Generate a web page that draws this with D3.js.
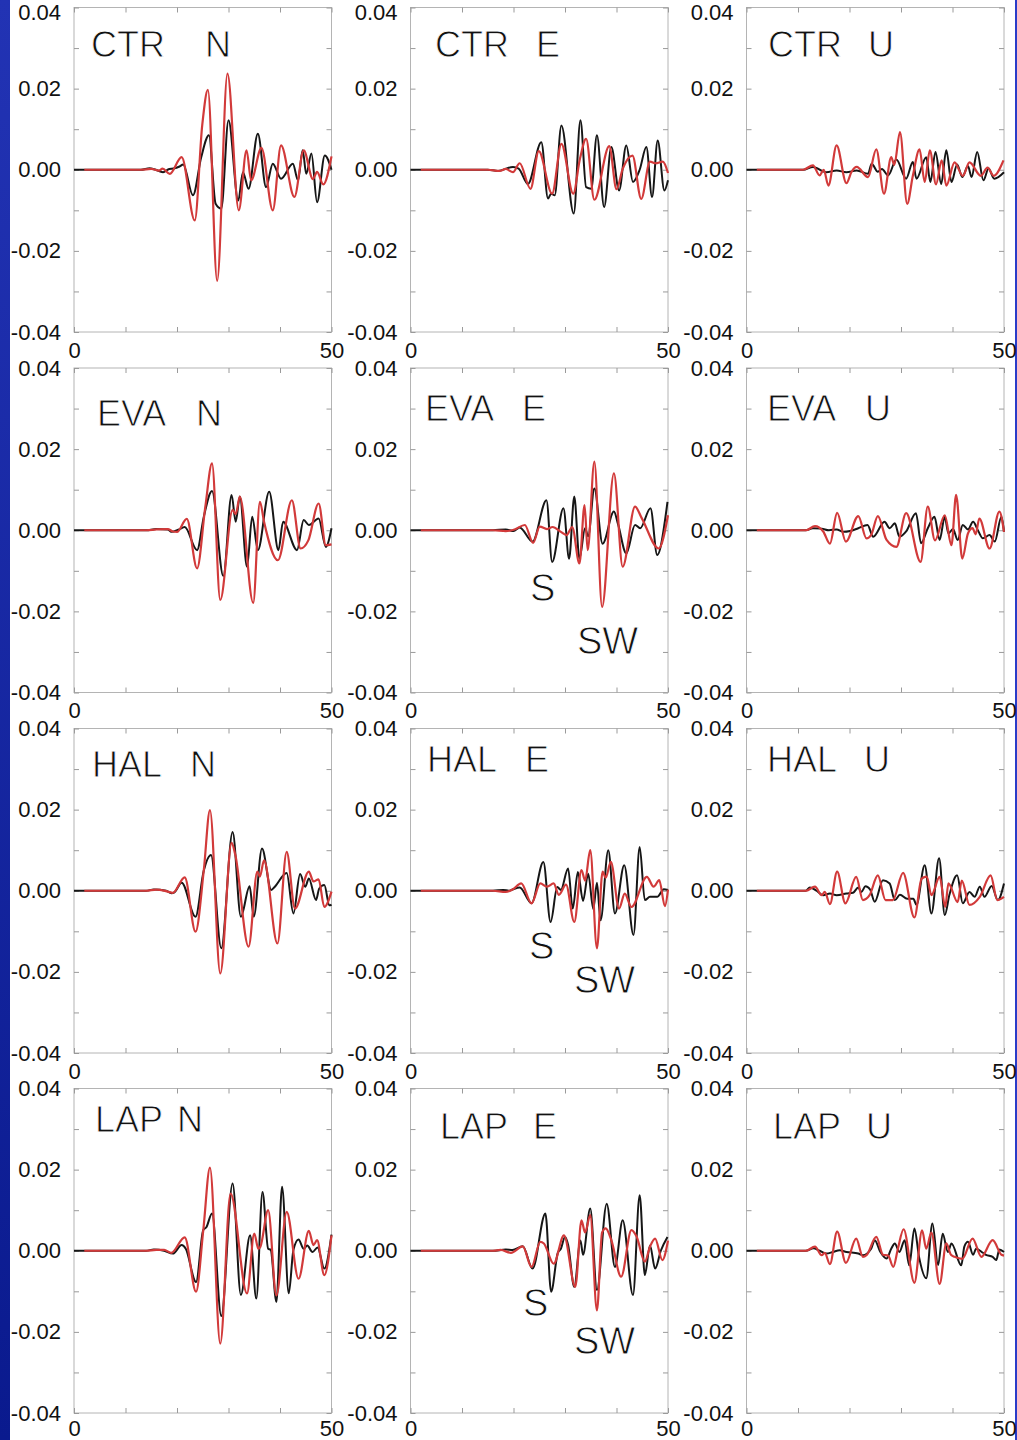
<!DOCTYPE html>
<html><head><meta charset="utf-8">
<script src="https://cdn.jsdelivr.net/npm/d3@7"></script>
<style>html,body{margin:0;padding:0;background:#fff;} svg{display:block;}</style>
</head><body>
<svg id="chart" width="1017" height="1440"></svg>
<script>
// ---------- data ----------
const stations = ["CTR","EVA","HAL","LAP"];
const components = ["N","E","U"];
const xTickValues = [0,10,20,30,40,50];
const xTickLabels = ["0","","","","","50"];
const yTickValues = [-40,-30,-20,-10,0,10,20,30,40];          // amplitude in units of 10^-3
const yTickLabels = ["-0.04","","-0.02","","0.00","","0.02","","0.04"];
const phaseLabels = ["S","SW"];

// [time (s), amplitude (10^-3)] – black = observed, red = synthetic
const CTR_N_black = [[0,0],[13,0],[14.7,0.4],[16.5,-0.3],[17.3,-0.6],[18.5,0.2],[19.3,0.3],[20.5,0.8],[21.2,1.3],[23.1,-6.3],[24.7,3.1],[26.2,8.5],[27.5,-8.4],[28.6,-9.6],[30.0,12.2],[31.9,-7.6],[32.8,-0.6],[33.9,-4.7],[35.7,8.9],[37.3,-4.3],[38.6,1.5],[40.2,-2.2],[42.5,1.5],[43.5,-2.6],[44.4,4.8],[45.1,-1.0],[46.1,4.0],[47.2,-8.0],[48.7,3.5],[50,0]];
const CTR_N_red = [[2,0],[13,0],[15,0.2],[16.5,-0.2],[17.2,0.3],[18.6,-1.0],[20.9,3.1],[23.45,-12.5],[24.9,11],[26.0,19.7],[27.8,-27.4],[29.8,23.7],[32.0,-10],[33.5,4.8],[34.4,-2.6],[36.4,5.4],[38.6,-10],[40.2,6],[42.8,-6.7],[44.6,4.8],[46.4,-2.3],[47.2,-0.5],[48.4,-3.6],[50,3.3]];
const CTR_E_black = [[0,0],[15,0],[17,-0.3],[19.9,0.7],[21.0,0.3],[22.8,-3.5],[25.4,6.8],[26.7,-7.1],[27.3,-5.9],[28.0,-6.3],[29.3,10.9],[31.7,-10.8],[33.0,12.2],[34.1,-4.3],[35.1,-4.7],[36.2,8.5],[37.6,-9.2],[39.0,5.6],[40.5,-5.1],[41.9,6.0],[43.2,-3.0],[44.5,0],[45.8,5.6],[46.9,-6.7],[48.0,7.2],[49.3,-5.1],[50,-2.6]];
const CTR_E_red = [[2,0],[15,0],[17.3,-0.3],[18.5,0.2],[19.9,-0.6],[21.2,1.6],[23.3,-4.7],[24.9,4.6],[27.5,-5.9],[29.3,6.4],[31.6,-5.9],[32.9,2.7],[34.1,7.6],[35.7,-7.4],[38.6,5.8],[40.0,-4.8],[41.2,0.2],[43.1,3.5],[44.8,-7.2],[46.5,2.0],[47.6,1.6],[49.0,2.0],[50,-0.8]];
const CTR_U_black = [[0,0],[11,0],[12.9,0.7],[15.5,-0.6],[17.5,-0.2],[19.4,-0.6],[21.4,-0.2],[23.6,-1.0],[24.3,1.5],[25.5,-0.5],[26.3,0.2],[27.5,-1.4],[29.1,2.5],[31.0,-2.2],[32.3,1.9],[33.0,-2.2],[34.9,3.1],[35.7,-3.0],[36.7,4.4],[37.8,-3.5],[38.8,4.8],[39.8,-3.0],[40.9,1.3],[41.9,-1.8],[43.0,0.9],[43.7,-1.8],[44.8,4.4],[46.0,-2.6],[47.0,0.3],[48.1,-2.2],[50,-0.6]];
const CTR_U_red = [[2,0],[11,0],[12.9,1.1],[14.2,-1.4],[15.0,0],[15.9,-3.9],[17.5,6],[19.4,-3.3],[20.4,-0.5],[21.4,0.7],[23.6,-1.8],[25.2,5],[26.7,-5.9],[28.1,3.1],[28.7,1.2],[29.8,9.3],[31.2,-8.4],[32.3,-1.5],[33.6,5],[34.6,-3],[35.6,4.8],[36.8,-3.6],[37.9,2.3],[38.8,-3.9],[40.4,1.8],[42.0,-1.5],[43.3,1.8],[45.5,-1.5],[46.8,0.5],[48.0,-1.5],[49.9,2.3]];

const EVA_N_black = [[0,0],[14,0],[16,0.3],[18.2,0.2],[18.9,-0.4],[20.4,0.2],[21.5,0.8],[23.9,-4.9],[25.2,3.3],[26.8,9.7],[29.0,-11.3],[30.6,8.7],[31.4,2.1],[32.2,8.3],[33.6,-9],[34.6,3.3],[35.7,-4.9],[37.9,9.5],[39.7,-4.9],[40.6,2.1],[43.3,-4.9],[44.6,2.5],[45.6,1.3],[47.5,2.9],[48.9,-4.1],[50,0.5]];
const EVA_N_red = [[2,0],[14,0],[16,0.2],[18.2,0.3],[19.2,-0.3],[20.0,-0.4],[21.9,2.8],[23.9,-9.4],[25.5,5.8],[26.8,16.5],[28.4,-17.2],[30.8,5],[31.4,4],[32.2,8.3],[34.8,-17.9],[36.1,7],[36.9,2.1],[39.6,-7.4],[42.3,7.4],[44.0,-4.5],[45.5,-2.5],[47.5,6.6],[48.9,-3.7],[50,-3.5]];
const EVA_E_black = [[0,0],[16,0],[18.5,0.2],[20.0,-0.2],[21.2,0.7],[23.7,-2.8],[26.4,7.4],[27.5,-7.8],[29.7,5.4],[30.8,-7],[31.8,8.3],[32.8,-7],[33.9,0.5],[34.5,-1.5],[35.7,10.3],[37.3,-3.3],[39.5,4.6],[40.3,1.5],[41.9,-5.7],[43.6,1.3],[44.6,0.5],[46.6,5.4],[47.9,-6.1],[49.9,7]];
const EVA_E_red = [[2,0],[16,0],[18.5,-0.2],[20.2,0.2],[22.2,1.3],[23.8,-3.1],[25.1,0.9],[26.5,0.3],[27.6,0.8],[29.2,-0.4],[30.3,-1.2],[31.4,0.8],[32.8,-8.2],[33.8,6.2],[34.4,-4.9],[35.7,16.9],[37.2,-18.9],[39.5,14],[41.2,-9],[43.6,5.8],[44.9,3.0],[48.2,-4.5],[50,3.7]];
const EVA_U_black = [[0,0],[11.5,0],[12.9,0.5],[14.6,0.4],[16.0,0],[17.5,0.2],[18.8,-0.4],[20.1,-0.2],[21.7,0.5],[23.5,1.3],[24.6,-1.6],[26.8,2.1],[27.8,0.5],[28.8,1.7],[29.7,-1.6],[31.0,-0.3],[32.9,4.2],[33.9,-3.2],[35.2,0.5],[36.5,3.3],[37.5,-2.4],[38.5,3.3],[39.2,-0.8],[40.1,0.3],[41.0,-2.4],[42.0,1.3],[43.0,0.2],[44.0,2.1],[45.0,-0.2],[45.9,-2.0],[47.2,-1.2],[48.2,-2.8],[49.5,3.3],[50,-0.4]];
const EVA_U_red = [[2,0],[11.5,0],[13.3,1.0],[14.9,-0.3],[16.2,-3.3],[17.6,4.3],[19.3,-2.8],[21.7,3.5],[23.3,-2.0],[24.2,-1.2],[25.5,3.5],[27.2,-2.4],[29.1,-4.1],[31.0,4.2],[33.8,-7.8],[35.2,5.8],[36.6,-2.5],[38.5,3.7],[39.8,-3.7],[40.7,8.7],[41.9,-7.0],[43.0,-0.8],[43.9,0.5],[44.5,-1.0],[45.2,2.9],[47.2,-4.5],[49.1,4.6],[50,-0.4]];

const HAL_N_black = [[0,0],[14,0],[15.5,0.3],[17.9,0],[18.9,-0.6],[19.5,-0.4],[20.9,2],[23.6,-6.4],[25.2,5],[26.6,8.8],[28.6,-14.2],[30.8,14.5],[32.4,-6.4],[34.1,1.1],[34.9,-6.4],[36.5,10.4],[38.3,0.2],[39.0,1.0],[41.3,4.4],[42.6,-5.6],[43.9,4.1],[44.9,1.0],[45.6,3.0],[47.0,-2.3],[47.6,0.5],[48.6,1.4],[49.6,-3.6],[50,-3.4]];
const HAL_N_red = [[2,0],[14,0],[16,0.3],[18.2,-0.2],[19.2,-0.5],[21.5,3.3],[23.6,-10.1],[25.2,5],[26.4,19.9],[28.4,-20.4],[30.6,11.8],[31.3,9],[33.9,-13.8],[35.6,4.7],[36.1,3.5],[36.9,7.5],[39.5,-13],[41.3,9.6],[42.9,-4.4],[45.6,4.7],[46.5,2.3],[47.5,2.8],[48.6,-4],[50,-0.2]];
const HAL_E_black = [[0,0],[16,0],[18,0.2],[19.1,0],[19.8,0.3],[21.2,0.8],[23.5,-3.1],[25.8,7.1],[27.2,-7.7],[28.5,0.9],[29.2,0.2],[30.6,5.5],[31.5,-4.4],[32.5,4.6],[33.5,-2.5],[34.5,4.2],[35.5,-4.5],[36.2,2.0],[36.9,-7.3],[38.4,10],[39.7,-5.6],[41.5,6.3],[43.3,-10.9],[44.5,10.8],[45.5,-2.3],[46.5,-1.5],[47.9,-1.5],[49.2,0.4],[50,0.2]];
const HAL_E_red = [[2,0],[16,0],[18.5,-0.3],[19.8,0.3],[21.5,1.8],[23.5,-3.1],[25.2,1.8],[26.5,1.0],[27.8,1.8],[28.8,-1.0],[30.2,1.5],[31.8,-7.7],[33.2,5.1],[33.9,2.5],[34.9,10],[36.2,-14.2],[37.3,4.7],[37.9,3.2],[38.9,7.1],[40.5,-4.4],[41.6,-0.7],[42.9,-4],[45.9,3.4],[47.2,1.0],[48.3,2.6],[49.4,-3.8],[50,0.3]];
const HAL_U_black = [[0,0],[11.5,0],[12.3,0.8],[13.6,0],[14.9,-1.1],[16.2,-0.7],[17.5,-1.1],[19.4,-0.7],[20.7,-0.5],[21.7,0.8],[22.3,-0.3],[23.1,1.1],[24.0,0.3],[24.9,-2.7],[26.5,2.6],[27.8,1.8],[28.8,-2.3],[29.8,-1.0],[31.2,-2.0],[32.4,-2.0],[33.0,-3.5],[34.6,6.3],[35.9,-5.6],[37.4,8.0],[38.5,-6.0],[39.4,-1.0],[40.9,3.8],[42.0,-3.1],[43.3,-0.3],[44.3,-1.5],[45.3,1.0],[46.2,-1.5],[47.6,1.2],[48.8,-2.3],[50,1.8]];
const HAL_U_red = [[2,0],[11.5,0],[13.3,1.0],[14.6,-1.1],[15.2,-0.3],[16.2,-3.3],[17.6,4.7],[19.2,-3.1],[21.3,3.4],[22.6,-2.3],[23.9,-1.1],[25.5,3.8],[27.0,-2.3],[28.4,-2.3],[30.4,4.4],[32.6,-6.6],[34.0,3.0],[35.0,3.5],[35.9,-1.1],[37.5,3.4],[38.6,-4.0],[39.2,1.8],[41.0,-2.8],[41.8,2.5],[43.3,-3.5],[45.3,-1.5],[47.4,3.8],[48.7,-2.3],[50,-1.5]];

const LAP_N_black = [[0,0],[14,0],[15.5,0.3],[17.5,0],[19.2,-0.7],[20.9,1.4],[21.7,0.5],[23.7,-7.7],[25.1,5.1],[25.7,5.8],[26.8,9.2],[28.6,-16.1],[30.8,16.6],[32.4,-10.9],[34.2,3.8],[35.4,-11.8],[36.6,14.5],[37.7,0.5],[38.2,0.2],[39.3,-12.6],[40.4,15.8],[41.7,-10.5],[42.6,0.2],[43.6,2.8],[44.6,0.5],[45.3,1.3],[46.3,-0.3],[47.3,0.8],[48.6,-4.4],[50,4.0]];
const LAP_N_red = [[2,0],[14,0],[16,0.2],[17.5,0.2],[18.9,-0.5],[21.5,3.3],[23.7,-10.1],[25.1,5],[26.4,20.5],[28.4,-22.9],[30.4,14.1],[33.6,-10.5],[35.0,4.2],[35.8,0.5],[36.2,1.0],[37.7,10],[39.3,-11],[41.3,9.6],[43.6,-6.9],[45.6,4.9],[46.5,1.4],[47.2,2.6],[48.6,-6],[50,3.8]];
const LAP_E_black = [[0,0],[16,0],[18.5,0.3],[19.8,0.2],[21.8,1.1],[23.7,-4.4],[26.2,9.2],[27.3,-10.1],[28.6,-0.5],[29.2,0.5],[30.0,3.4],[30.6,1.5],[31.8,-8.9],[33.0,2.5],[33.5,-1.0],[34.9,10.4],[36.2,-9.7],[38.1,11.6],[39.7,-4.0],[41.2,7.5],[43.2,-10.9],[44.5,13.7],[45.5,-6],[46.5,1.3],[47.5,-4.4],[48.6,0],[49.9,3.4]];
const LAP_E_red = [[2,0],[16,0],[17.5,0.2],[19.5,-0.5],[21.8,1.1],[23.5,-4],[25.2,2.2],[25.9,1.8],[27.8,-3.2],[29.8,3.8],[32.0,-8.9],[33.2,7.5],[33.9,4.5],[34.9,8.8],[36.2,-14.7],[37.2,4.5],[37.9,5.5],[39.0,2.6],[40.9,-6.4],[42.9,5.1],[43.9,3.5],[45.5,-2.7],[46.5,1.0],[47.5,3.0],[48.9,-2.3],[50,2.5]];
const LAP_U_black = [[0,0],[11.5,0],[13.0,0.6],[14.2,0.0],[15.5,-0.7],[16.8,-0.3],[18.1,0.1],[19.4,-0.3],[21.7,-0.7],[22.6,-1.1],[24.2,0.5],[24.9,2.6],[26.0,-0.3],[27.2,-1.9],[28.1,0.5],[28.8,1.8],[29.7,-0.3],[30.7,2.6],[31.6,-3.6],[32.6,5.5],[33.5,-1.5],[34.9,-6.8],[36.1,6.7],[37.2,-3.5],[38.1,4.2],[39.1,-0.3],[39.8,1.8],[41.7,-3.6],[42.3,1.0],[43.0,2.2],[44.0,-1.0],[44.6,0.5],[45.9,-0.5],[46.5,-1.0],[47.8,-1.5],[48.5,-2.3],[49.1,0.3],[50,-0.3]];
const LAP_U_red = [[2,0],[11.5,0],[13.3,1.0],[14.6,-1.1],[15.2,-0.5],[16.2,-3.3],[17.6,4.7],[19.3,-3.0],[21.3,3.0],[22.6,-1.5],[23.3,-1.1],[25.2,3.4],[26.5,-1.0],[27.5,-1.2],[28.5,-4.0],[29.4,0.5],[30.5,5.3],[32.6,-7.9],[34.1,5.0],[34.9,0.5],[35.9,4.5],[37.5,-8.2],[38.8,1.8],[39.7,-1.0],[40.4,-1.5],[41.9,-2.0],[43.9,3.0],[45.6,-1.5],[47.8,2.6],[49.5,-1.0],[50,-1.2]];

const traces = {
  CTR:{N:[CTR_N_black,CTR_N_red],E:[CTR_E_black,CTR_E_red],U:[CTR_U_black,CTR_U_red]},
  EVA:{N:[EVA_N_black,EVA_N_red],E:[EVA_E_black,EVA_E_red],U:[EVA_U_black,EVA_U_red]},
  HAL:{N:[HAL_N_black,HAL_N_red],E:[HAL_E_black,HAL_E_red],U:[HAL_U_black,HAL_U_red]},
  LAP:{N:[LAP_N_black,LAP_N_red],E:[LAP_E_black,LAP_E_red],U:[LAP_U_black,LAP_U_red]}
};

// ---------- layout ----------
const colX = [74, 410.5, 746.5], plotW = 257.5;
const rowY = [7.5, 368, 728.5, 1088.5], plotH = 324.5;
// title positions [stationX, componentX, baseline]
const titlePos = [
  [[91,205,57],[435,536,57],[768,868,57]],
  [[97,196,426],[425,522,421],[767,865,421]],
  [[92,190,777],[427,525,772],[767,864,772]],
  [[95,177,1132],[440,533,1139],[773,866,1139]]
];
// phase label positions (row -> [[Sx,Sy],[SWx,SWy]]) for E column
const phasePos = {1:[[530,601],[577,654]], 2:[[529,959],[574,993]], 3:[[523,1316],[574,1354]]};

const svg = d3.select("#chart");
const defs = svg.append("defs");
const grad = defs.append("linearGradient").attr("id","bar").attr("x1",0).attr("y1",0).attr("x2",0).attr("y2",1);
grad.append("stop").attr("offset","0%").attr("stop-color","#2233b4");
grad.append("stop").attr("offset","100%").attr("stop-color","#0a1a8e");
svg.append("rect").attr("width",1017).attr("height",1440).attr("fill","#fff");
svg.append("rect").attr("x",0).attr("y",0).attr("width",10).attr("height",1440).attr("fill","url(#bar)");
svg.append("rect").attr("x",1015).attr("y",0).attr("width",2).attr("height",1440).attr("fill","#2a3cc8");

const FONT = "'Liberation Sans', Arial, Helvetica, sans-serif";

stations.forEach((st, r) => {
  components.forEach((cp, c) => {
    const x0 = colX[c], y0 = rowY[r];
    const x = d3.scaleLinear().domain([0,50]).range([x0, x0+plotW]);
    const y = d3.scaleLinear().domain([-40,40]).range([y0+plotH, y0]);
    const g = svg.append("g");

    g.append("rect").attr("x",x0).attr("y",y0).attr("width",plotW).attr("height",plotH)
      .attr("fill","none").attr("stroke","#b4b4b4").attr("stroke-width",1);

    const styleAxis = sel => {
      sel.select(".domain").remove();
      sel.selectAll(".tick line").attr("stroke","#9a9a9a");
      sel.selectAll(".tick text").attr("fill","#111").style("font-family",FONT).style("font-size","22px");
    };
    const left = g.append("g").attr("transform",`translate(${x0},0)`)
      .call(d3.axisLeft(y).tickValues(yTickValues).tickSize(-5).tickPadding(13).tickFormat((d,i)=>yTickLabels[i]))
      .call(styleAxis);
    // keep the top label of the first row inside the page
    if (r === 0) left.selectAll(".tick").filter(d=>d===40).select("text").attr("dy","0.72em").attr("y",-3.5);
    g.append("g").attr("transform",`translate(0,${y0+plotH})`)
      .call(d3.axisBottom(x).tickValues(xTickValues).tickSize(-5).tickPadding(r===3?7:10).tickFormat((d,i)=>xTickLabels[i]))
      .call(styleAxis);
    g.append("g").attr("transform",`translate(${x0+plotW},0)`)
      .call(d3.axisRight(y).tickValues(yTickValues).tickSize(-5).tickFormat(""))
      .call(styleAxis);
    g.append("g").attr("transform",`translate(0,${y0})`)
      .call(d3.axisTop(x).tickValues(xTickValues).tickSize(-5).tickFormat(""))
      .call(styleAxis);

    const line = d3.line().x(d=>x(d[0])).y(d=>y(d[1])).curve(d3.curveMonotoneX);
    const [blk, red] = traces[st][cp];
    g.append("path").datum(blk).attr("d",line).attr("fill","none").attr("stroke","#161616").attr("stroke-width",2).attr("stroke-linejoin","round");
    g.append("path").datum(red).attr("d",line).attr("fill","none").attr("stroke","#d23a3a").attr("stroke-width",2.2).attr("stroke-linejoin","round");

    const tp = titlePos[r][c];
    const tg = g.append("g").style("font-family",FONT).style("font-size","36px")
      .attr("fill","#111").attr("stroke","#fff").attr("stroke-width",0.9);
    tg.append("text").attr("x",tp[0]).attr("y",tp[2]).text(st);
    tg.append("text").attr("x",tp[1]).attr("y",tp[2]).text(cp);

    if (cp === "E" && phasePos[r]) {
      const pg = g.append("g").style("font-family",FONT).style("font-size","38px")
        .attr("fill","#111").attr("stroke","#fff").attr("stroke-width",0.9);
      phaseLabels.forEach((lab,i)=>{
        pg.append("text").attr("x",phasePos[r][i][0]).attr("y",phasePos[r][i][1]).text(lab);
      });
    }
  });
});
</script>
</body></html>
